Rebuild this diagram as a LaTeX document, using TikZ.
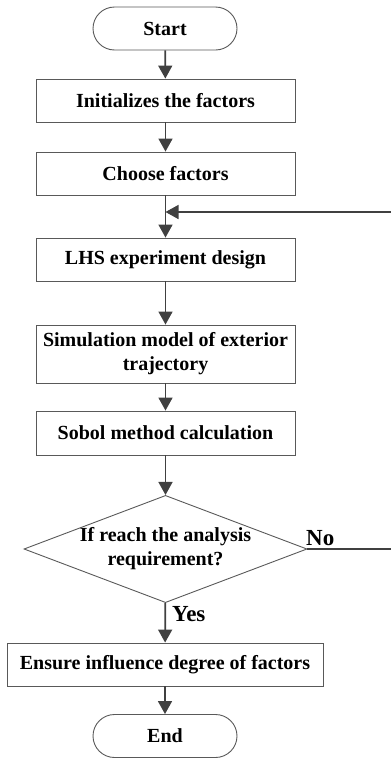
\documentclass[tikz,border=0pt]{standalone}
\usepackage{fontspec}
\setmainfont{Liberation Serif}
\usetikzlibrary{arrows.meta,shapes.geometric}
\begin{document}
\begin{tikzpicture}[x=1pt,y=-1pt,
  txt/.style={font=\bfseries\fontsize{20}{24}\selectfont, align=center, text=black},
  box/.style={txt, draw=black!65, line width=0.9pt, minimum width=259pt, minimum height=43pt, inner sep=0pt},
  term/.style={txt, draw=black!65, line width=0.9pt, minimum width=144pt, minimum height=43pt, rounded corners=21.5pt, inner sep=0pt},
  dec/.style={txt, draw=black!65, line width=0.9pt, shape=diamond, aspect=2.64, minimum width=280pt, minimum height=106pt, inner sep=0pt},
  lab/.style={font=\bfseries\fontsize{23}{26}\selectfont, inner sep=0pt, text=black},
  arr/.style={draw=black!75, line width=1.7pt, -{Triangle[length=13pt,width=14pt]}},
  ln/.style={draw=black!75, line width=1.5pt}
]
\useasboundingbox (0,0) rectangle (391,758);
\node[term] (start) at (165,28.5) {Start};
\node[box] (init) at (165.5,100.5) {Initializes the factors};
\node[box] (choose) at (165.5,173.5) {Choose factors};
\node[box] (lhs) at (165.5,259.5) {LHS experiment design};
\node[box, minimum height=58pt] (sim) at (165.5,354) {Simulation model of exterior\\trajectory};
\node[box, minimum height=44pt] (sobol) at (165.5,433) {Sobol method calculation};
\node[dec] (cond) at (165.5,549) {If reach the analysis\\requirement?};
\node[box, minimum width=316pt] (ens) at (165,664.5) {Ensure influence degree of factors};
\node[term] (end) at (165,736) {End};
\node[lab, anchor=base west] (no) at (306,545) {No};
\node[lab, anchor=base west] (yes) at (172,621) {Yes};
\coordinate (m) at (165.5,212);
\coordinate (r1) at (394,549);
\coordinate (r2) at (394,212);
\draw[arr] (start) -- (init);
\draw[arr] (init) -- (choose);
\draw[arr] (choose) -- (lhs);
\draw[arr] (lhs) -- (sim);
\draw[arr] (sim) -- (sobol);
\draw[arr] (sobol) -- (cond);
\draw[arr] (cond) -- (ens);
\draw[arr] (ens) -- (end);
\draw[ln] (cond.east) -- (r1) -- (r2);
\draw[arr, line width=1.5pt] (r2) -- (m);
\end{tikzpicture}
\end{document}
